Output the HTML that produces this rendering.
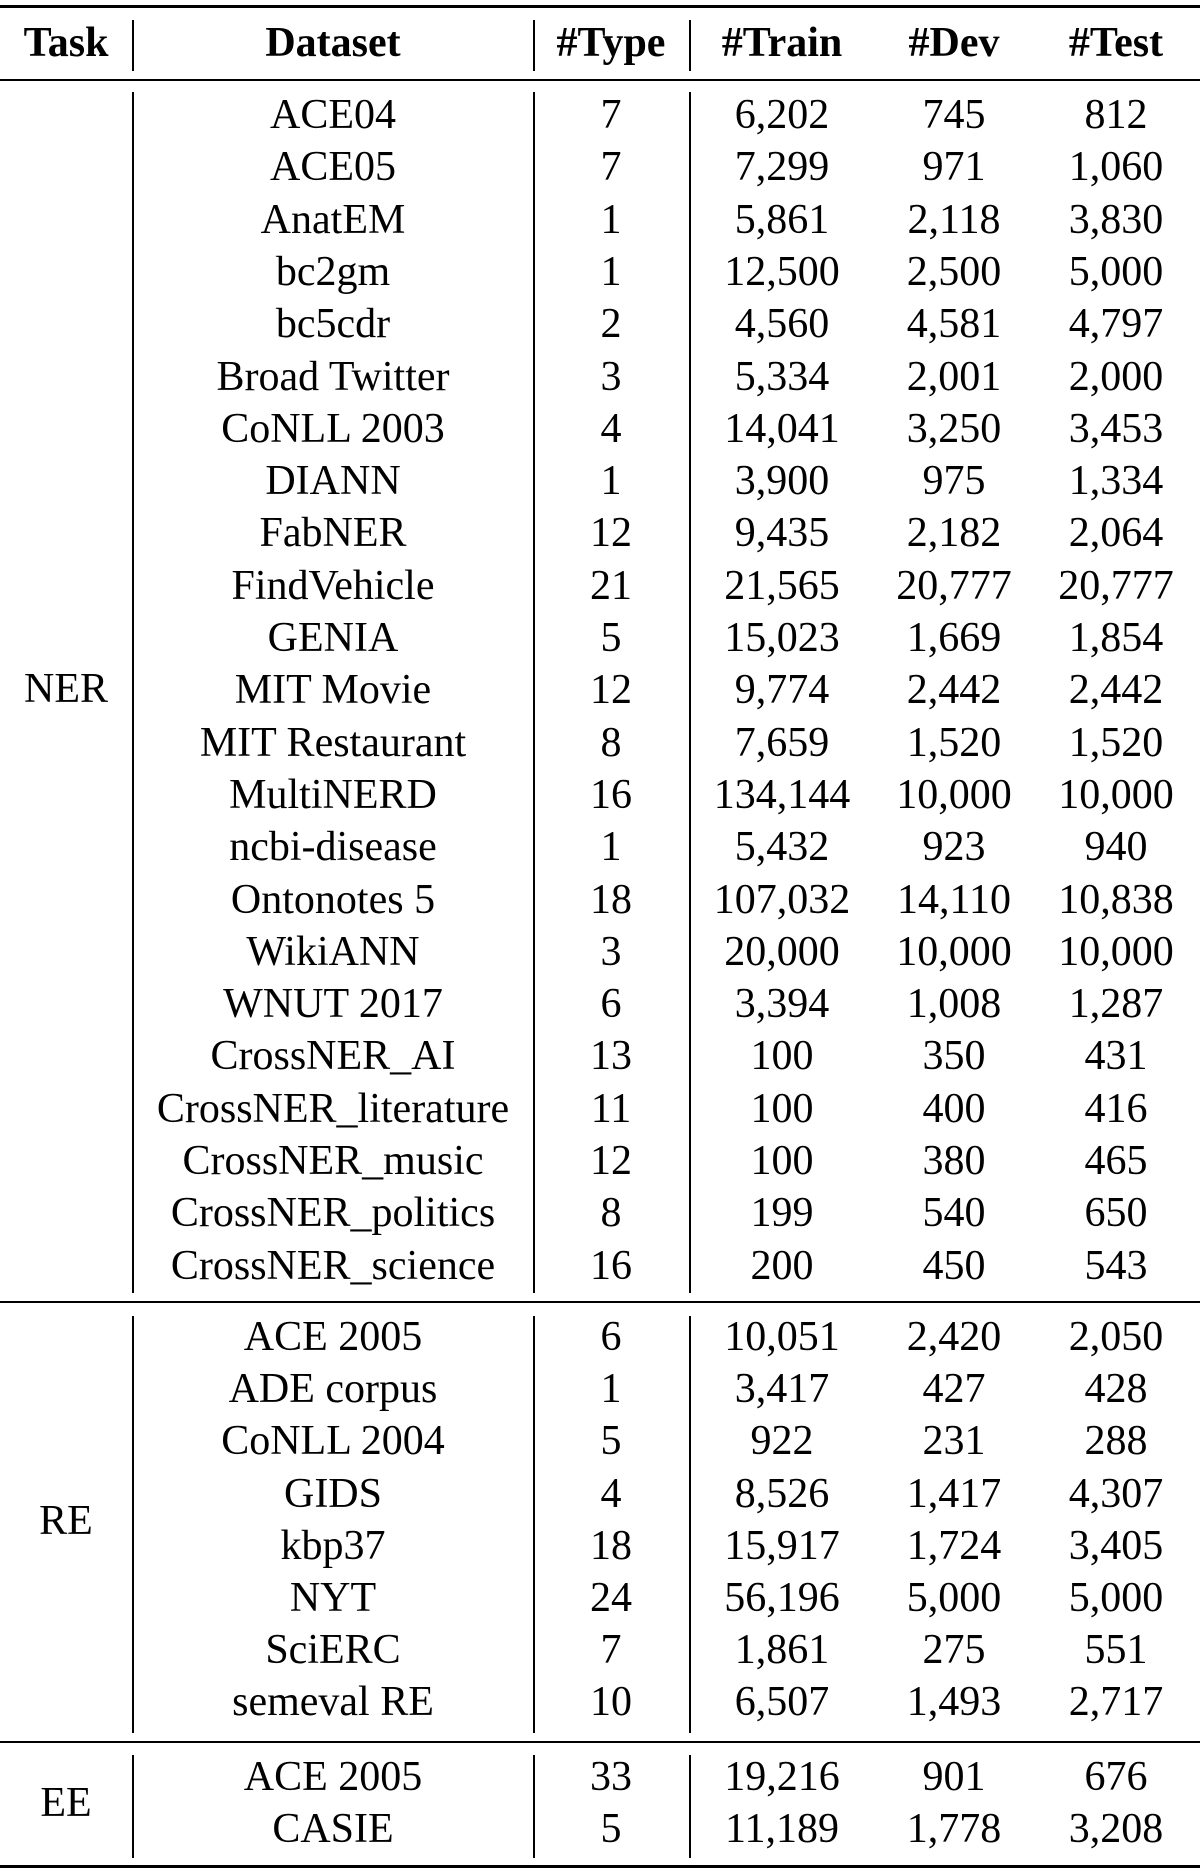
<!DOCTYPE html>
<html><head><meta charset="utf-8">
<style>
html,body{margin:0;padding:0;background:#fff;}
#t{position:relative;width:1200px;height:1870px;overflow:hidden;font-family:"Liberation Serif",serif;font-size:42px;color:#000;}
.c{position:absolute;height:52px;line-height:52px;text-align:center;white-space:nowrap;width:400px;}
.h{font-weight:bold;}
.r{position:absolute;left:0;width:1200px;background:#000;}
.v{position:absolute;width:2px;background:#000;}
</style></head><body>
<div id="t"></div>
<script>
const headers=["Task","Dataset","#Type","#Train","#Dev","#Test"];
const nerNames=["ACE04","ACE05","AnatEM","bc2gm","bc5cdr","Broad Twitter","CoNLL 2003","DIANN","FabNER","FindVehicle","GENIA","MIT Movie","MIT Restaurant","MultiNERD","ncbi-disease","Ontonotes 5","WikiANN","WNUT 2017","CrossNER_AI","CrossNER_literature","CrossNER_music","CrossNER_politics","CrossNER_science"];
const nerType=["7","7","1","1","2","3","4","1","12","21","5","12","8","16","1","18","3","6","13","11","12","8","16"];
const nerTrain=["6,202","7,299","5,861","12,500","4,560","5,334","14,041","3,900","9,435","21,565","15,023","9,774","7,659","134,144","5,432","107,032","20,000","3,394","100","100","100","199","200"];
const nerDev=["745","971","2,118","2,500","4,581","2,001","3,250","975","2,182","20,777","1,669","2,442","1,520","10,000","923","14,110","10,000","1,008","350","400","380","540","450"];
const nerTest=["812","1,060","3,830","5,000","4,797","2,000","3,453","1,334","2,064","20,777","1,854","2,442","1,520","10,000","940","10,838","10,000","1,287","431","416","465","650","543"];
const reNames=["ACE 2005","ADE corpus","CoNLL 2004","GIDS","kbp37","NYT","SciERC","semeval RE"];
const reType=["6","1","5","4","18","24","7","10"];
const reTrain=["10,051","3,417","922","8,526","15,917","56,196","1,861","6,507"];
const reDev=["2,420","427","231","1,417","1,724","5,000","275","1,493"];
const reTest=["2,050","428","288","4,307","3,405","5,000","551","2,717"];
const eeNames=["ACE 2005","CASIE"];
const eeType=["33","5"];
const eeTrain=["19,216","11,189"];
const eeDev=["901","1,778"];
const eeTest=["676","3,208"];

const T=document.getElementById('t');
const colX=[66,333,611,782,954,1116];
function txt(s,cx,cy,cls,name){
  const d=document.createElement('div');
  d.className='c '+(cls||'');
  d.style.left=(cx-200)+'px';d.style.top=(cy-27)+'px';
  d.textContent=s;
  
  
  T.appendChild(d);
}
function rule(y,h,name){
  const d=document.createElement('div');d.className='r';
  d.style.top=y+'px';d.style.height=h+'px';
  
  
  T.appendChild(d);
}
function vline(x,y1,y2,name){
  const d=document.createElement('div');d.className='v';
  d.style.left=(x-1)+'px';d.style.top=y1+'px';d.style.height=(y2-y1)+'px';
  
  
  T.appendChild(d);
}
rule(5,3,'top-rule');rule(79,2,'header-rule');rule(1301,2,'ner-re-rule');rule(1741,2,'re-ee-rule');rule(1865,3,'bottom-rule');
headers.forEach((h,i)=>txt(h,colX[i],44,'h','header-'+h.replace('#','').toLowerCase()));
const vx=[133,534,690];
const spans=[[20,71],[92,1293],[1316,1733],[1755,1858]];
spans.forEach((s,j)=>vx.forEach((x,k)=>vline(x,s[0],s[1],'column-divider')));
function section(task,taskY,y0,pitch,names,ty,tr,dv,te){
  txt(task,colX[0],taskY,'','task-'+task.toLowerCase());
  names.forEach((n,i)=>{
    const y=y0+i*pitch;
    txt(n,colX[1],y,'','dataset-name');
    txt(ty[i],colX[2],y,'','type-count');
    txt(tr[i],colX[3],y,'','train-count');
    txt(dv[i],colX[4],y,'','dev-count');
    txt(te[i],colX[5],y,'','test-count');
  });
}
section('NER',690,116,52.3,nerNames,nerType,nerTrain,nerDev,nerTest);
section('RE',1522,1338,52.2,reNames,reType,reTrain,reDev,reTest);
section('EE',1804,1778,52.2,eeNames,eeType,eeTrain,eeDev,eeTest);
</script>
</body></html>
